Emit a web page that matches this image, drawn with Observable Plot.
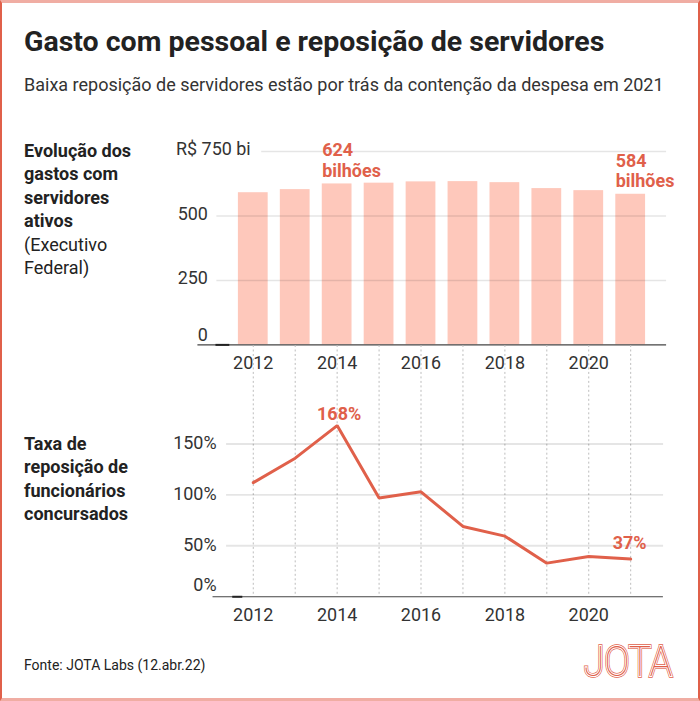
<!DOCTYPE html>
<html>
<head>
<meta charset="utf-8">
<script src="https://cdn.jsdelivr.net/npm/d3@7"></script>
<script src="https://cdn.jsdelivr.net/npm/@observablehq/plot@0.6"></script>
<style>
  html, body { margin: 0; padding: 0; background: #fff; }
  body { font-family: Roboto, "Noto Sans", sans-serif; }
  #frame {
    position: relative; width: 700px; height: 701px; box-sizing: border-box;
    border-top: 3px solid #f0ada3; border-bottom: 3px solid #f0ada3;
    border-left: 2px solid #e0604a; border-right: 2px solid #e0604a;
    overflow: hidden;
  }
  .abs { position: absolute; white-space: nowrap; }
  #title { left: 22px; top: 25px; font-size: 28.5px; line-height: 1; font-weight: 700; color: #222; }
  #subtitle { left: 22px; top: 73px; font-size: 18px; line-height: 1; color: #333; }
  .side { left: 22px; font-size: 18px; line-height: 23.5px; color: #222; }
  .side b { font-weight: 700; }
  #side1 { top: 135.5px; }
  #side2 { top: 428.8px; }
  #footer { left: 22px; top: 655px; font-size: 14px; line-height: 1; color: #222; }
  #bars { left: -2px; top: 127px; }
  #line { left: -2px; top: 342px; }
  #logo { left: 568px; top: 632px; overflow: visible; }
</style>
</head>
<body>
<div id="frame">
  <div class="abs" id="title">Gasto com pessoal e reposição de servidores</div>
  <div class="abs" id="subtitle">Baixa reposição de servidores estão por trás da contenção da despesa em 2021</div>
  <div class="abs side" id="side1"><b>Evolução dos<br>gastos com<br>servidores<br>ativos</b><br>(Executivo<br>Federal)</div>
  <div class="abs side" id="side2"><b>Taxa de<br>reposição de<br>funcionários<br>concursados</b></div>
  <div class="abs" id="bars"></div>
  <div class="abs" id="line"></div>
  <div class="abs" id="footer">Fonte: JOTA Labs (12.abr.22)</div>
  <svg class="abs" id="logo" width="126" height="50">
    <g font-family="Roboto" font-weight="100" font-size="43">
      <text x="14" y="41" textLength="88" lengthAdjust="spacingAndGlyphs" fill="none" stroke="#e0604a" stroke-width="3.6" stroke-linejoin="miter">JOTA</text>
      <text x="14" y="41" textLength="88" lengthAdjust="spacingAndGlyphs" fill="none" stroke="#fff" stroke-width="2.2" stroke-linejoin="miter">JOTA</text>
      <text x="14" y="41" textLength="88" lengthAdjust="spacingAndGlyphs" fill="#e0604a">JOTA</text>
    </g>
  </svg>
</div>
<script>
// ---- Data ----
const years = [2012, 2013, 2014, 2015, 2016, 2017, 2018, 2019, 2020, 2021];
const gastos = [590, 602, 624, 627, 632, 633, 629, 606, 598, 584];       // R$ bilhões
const taxa = [112, 136, 168, 97, 103, 69, 59.5, 33, 39.5, 37];           // %
const yearTicks = [2012, 2014, 2016, 2018, 2020];
const barTicks = [250, 500];
const barTopTick = 750;
const barTopLabel = "R$ 750 bi";
const lineTicks = [50, 100, 150];
const barNotes = [{year: 2014, value: 624}, {year: 2021, value: 584}];
const lineNotes = [{year: 2014, value: 168}, {year: 2021, value: 37}];

const barData = years.map((year, i) => ({year, value: gastos[i]}));
const lineData = years.map((year, i) => ({year, value: taxa[i]}));

const RED = "#e0604a";
const BAR = "#fec8bb";
const AXIS = "#333";
const xScale = {type: "linear", domain: [2012, 2021], range: [253.5, 632], axis: null};
const style = {background: "transparent", overflow: "visible", fontFamily: "Roboto"};

// ---- Bar chart ----
const bars = Plot.plot({
  width: 700, height: 250,
  marginTop: 21, marginBottom: 35, marginLeft: 217, marginRight: 32,
  x: xScale,
  y: {domain: [0, 750], axis: null},
  style,
  marks: [
    Plot.rectY(barData, {x1: d => d.year - 0.5, x2: d => d.year + 0.5, y: "value", insetLeft: 6.1, insetRight: 6.1, fill: BAR}),
    Plot.ruleY(barTicks, {stroke: "#000", strokeOpacity: 0.1, strokeWidth: 1.5}),
    Plot.ruleY([barTopTick], {x1: 2012.2, x2: 2021.856, stroke: "#000", strokeOpacity: 0.1, strokeWidth: 1.5}),
    Plot.ruleY([0], {x1: 2010.68, x2: 2021.856, stroke: "#444", strokeWidth: 1.2}),
    Plot.ruleY([0], {x1: 2011.11, x2: 2011.44, stroke: "#222", strokeWidth: 2}),
    Plot.text(barTicks, {y: d => d, text: d => String(d), frameAnchor: "left", textAnchor: "end", dx: -9, dy: -2, fontSize: 18, fill: AXIS}),
    Plot.text([0], {y: d => d, text: d => String(d), frameAnchor: "left", textAnchor: "end", dx: -9, dy: -10, fontSize: 18, fill: AXIS}),
    Plot.text([barTopTick], {y: d => d, text: () => barTopLabel, frameAnchor: "left", textAnchor: "start", dx: -41, dy: -2, fontSize: 18, fill: AXIS}),
    Plot.text(barNotes, {x: "year", y: "value", text: d => `${d.value}\nbilhões`, textAnchor: "start", lineAnchor: "top", lineHeight: 1.15, dx: -15, dy: -42.5, fontSize: 18, fontWeight: 700, fill: RED}),
    Plot.axisX(yearTicks, {tickSize: 0, tickPadding: 11, fontSize: 18, fill: AXIS, tickFormat: d => String(d), label: null})
  ]
});
document.getElementById("bars").append(bars);

// ---- Line chart ----
const line = Plot.plot({
  width: 700, height: 290,
  marginTop: 0, marginBottom: 38, marginLeft: 226.7, marginRight: 35,
  x: xScale,
  y: {domain: [0, 246.6], axis: null},
  style,
  marks: [
    Plot.ruleX(years, {stroke: "#bdbdbd", strokeWidth: 1, strokeDasharray: "2,2.5"}),
    Plot.ruleY(lineTicks, {stroke: "#000", strokeOpacity: 0.1, strokeWidth: 2}),
    Plot.ruleY([0], {x1: 2011.04, x2: 2021.78, stroke: "#444", strokeWidth: 1.2}),
    Plot.ruleY([0], {x1: 2011.51, x2: 2011.75, stroke: "#222", strokeWidth: 2}),
    Plot.line(lineData, {x: "year", y: "value", stroke: RED, strokeWidth: 3, strokeLinejoin: "miter"}),
    Plot.text(lineTicks, {y: d => d, text: d => `${d}%`, frameAnchor: "left", textAnchor: "end", dx: -10, dy: -1, fontSize: 18, fill: AXIS}),
    Plot.text([0], {y: d => d, text: d => `${d}%`, frameAnchor: "left", textAnchor: "end", dx: -10, dy: -12, fontSize: 18, fill: AXIS}),
    Plot.text(lineNotes.slice(0, 1), {x: "year", y: "value", text: d => `${d.value}%`, lineAnchor: "bottom", dx: 2, dy: -6, fontSize: 18, fontWeight: 700, fill: RED}),
    Plot.text(lineNotes.slice(1), {x: "year", y: "value", text: d => `${d.value}%`, lineAnchor: "bottom", dx: -1, dy: -10.5, fontSize: 18, fontWeight: 700, fill: RED}),
    Plot.axisX(yearTicks, {tickSize: 0, tickPadding: 11.5, fontSize: 18, fill: AXIS, tickFormat: d => String(d), label: null})
  ]
});
document.getElementById("line").append(line);
</script>
</body>
</html>
